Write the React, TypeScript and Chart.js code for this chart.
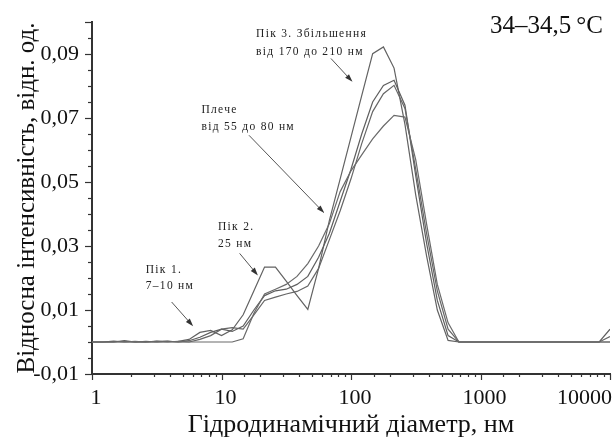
import React, { useEffect, useRef } from 'react';
import { Chart, registerables } from 'chart.js';

Chart.register(...registerables);

const FONT = '"Liberation Serif", "Times New Roman", serif';

// Hydrodynamic diameter grid, nm
const diameters = [
  1, 1.21, 1.47, 1.78, 2.15, 2.61, 3.16, 3.83, 4.64, 5.62, 6.81, 8.25,
  10, 12.1, 14.7, 17.8, 21.5, 26.1, 31.6, 38.3, 46.4, 56.2, 68.1, 82.5,
  100, 121, 147, 178, 215, 261, 316, 383, 464, 562, 681, 825,
  1000, 1210, 1470, 1780, 2150, 2610, 3160, 3830, 4640, 5620, 6810, 8250, 10000,
];

const seriesA = [
  0, 0, 0, 0.0004, 0, 0, 0.0002, 0, 0.0002, 0.0008, 0.003, 0.0036,
  0.002, 0.0038, 0.0085, 0.016, 0.0234, 0.0234, 0.019, 0.0145, 0.0102, 0.023, 0.038, 0.051,
  0.064, 0.077, 0.0901, 0.0922, 0.0856, 0.068, 0.046, 0.027, 0.01, 0.0005, 0, 0,
  0, 0, 0, 0, 0, 0, 0, 0, 0, 0, 0, 0, 0,
];
const seriesB = [
  0, 0, 0.0003, 0, 0, 0.0002, 0, 0.0003, 0, 0.0004, 0.0015, 0.003,
  0.004, 0.0033, 0.005, 0.01, 0.0145, 0.016, 0.0165, 0.018, 0.0205, 0.0265, 0.034, 0.044,
  0.054, 0.065, 0.075, 0.0802, 0.0818, 0.074, 0.052, 0.031, 0.013, 0.002, 0, 0,
  0, 0, 0, 0, 0, 0, 0, 0, 0, 0, 0, 0, 0.004,
];
const seriesC = [
  0, 0, 0, 0.0002, 0, 0, 0.0003, 0.0002, 0, 0, 0.0008, 0.002,
  0.004, 0.0045, 0.004, 0.0085, 0.013, 0.014, 0.015, 0.0158, 0.0175, 0.023, 0.032, 0.041,
  0.051, 0.062, 0.072, 0.0776, 0.0802, 0.073, 0.054, 0.034, 0.016, 0.004, 0, 0,
  0, 0, 0, 0, 0, 0, 0, 0, 0, 0, 0, 0, 0.0017,
];
const seriesD = [
  0, 0, 0, 0, 0.0002, 0, 0, 0, 0.0002, 0, 0, 0,
  0, 0, 0.001, 0.009, 0.015, 0.0165, 0.018, 0.0205, 0.0245, 0.03, 0.037, 0.047,
  0.0535, 0.0585, 0.0635, 0.0675, 0.0708, 0.0703, 0.057, 0.037, 0.018, 0.006, 0, 0,
  0, 0, 0, 0, 0, 0, 0, 0, 0, 0, 0, 0, 0,
];

const xTickLabels = ['1', '10', '100', '1000', '10000'];
const yLabelValues = [-0.01, 0.01, 0.03, 0.05, 0.07, 0.09];
const chartTitle = '34–34,5\u2009°C';
const xTitle = 'Гідродинамічний діаметр, нм';
const yTitle = 'Відносна інтенсивність, відн. од.';

// Annotations: text lines anchored at (x, y) in data units, arrows from -> to in data units
const annotations = [
  { lines: ['Пік 1.', '7–10 нм'], x: 2.6, y: [0.0224, 0.0174], from: [4.12, 0.0125], to: [6.04, 0.0049] },
  { lines: ['Пік 2.', '25 нм'], x: 9.4, y: [0.0358, 0.0305], from: [13.8, 0.0277], to: [19.1, 0.0208] },
  { lines: ['Плече', 'від 55 до 80 нм'], x: 7.0, y: [0.0724, 0.0671], from: [16.3, 0.0646], to: [62.2, 0.0403] },
  { lines: ['Пік 3. Збільшення', 'від 170 до 210 нм'], x: 18.5, y: [0.0962, 0.0905], from: [70, 0.0886], to: [102.7, 0.0813] },
];

const isPow10 = (v: number) => {
  const l = Math.log10(v);
  return Math.abs(l - Math.round(l)) < 1e-6;
};
const isYMajor = (v: number) => yLabelValues.some((m) => Math.abs(m - v) < 1e-6) || Math.abs(v - 0.1) < 1e-6;

const X_TICK_LEN = 6;
const X_TICK_PAD = 5;
const TICK_FONT = 22;

const decorPlugin = {
  id: 'decor',
  afterDraw(chart: any) {
    const { ctx, chartArea } = chart;
    const xs = chart.scales.x;
    const ys = chart.scales.y;
    ctx.save();
    ctx.strokeStyle = '#333';
    ctx.lineWidth = 1.2;
    // x tick marks
    xs.ticks.forEach((t: any) => {
      if (t.value < 1 || t.value > 10000) return;
      const px = Math.round(xs.getPixelForValue(t.value)) + 0.5;
      const len = isPow10(t.value) ? X_TICK_LEN : 3;
      ctx.beginPath();
      ctx.moveTo(px, chartArea.bottom);
      ctx.lineTo(px, chartArea.bottom + len);
      ctx.stroke();
    });
    // y tick marks
    ys.ticks.forEach((t: any) => {
      const py = Math.round(ys.getPixelForValue(t.value)) + 0.5;
      const len = isYMajor(t.value) ? 7 : 4;
      ctx.beginPath();
      ctx.moveTo(chartArea.left, py);
      ctx.lineTo(chartArea.left - len, py);
      ctx.stroke();
    });
    // last x label, right aligned at the end of the axis
    ctx.fillStyle = '#111';
    ctx.font = `${TICK_FONT}px ${FONT}`;
    ctx.textAlign = 'right';
    ctx.textBaseline = 'middle';
    ctx.fillText(
      xTickLabels[xTickLabels.length - 1],
      xs.getPixelForValue(10000) + 2,
      chartArea.bottom + X_TICK_LEN + X_TICK_PAD + (TICK_FONT * 1.2) / 2
    );
    // title
    ctx.font = `25px ${FONT}`;
    ctx.textBaseline = 'alphabetic';
    ctx.fillText(chartTitle, chartArea.right - 7, chartArea.top + 11);
    // annotations
    ctx.font = `11.5px ${FONT}`;
    (ctx as any).letterSpacing = '1.3px';
    ctx.textAlign = 'left';
    ctx.textBaseline = 'middle';
    ctx.fillStyle = '#222';
    annotations.forEach((a) => {
      const tx = xs.getPixelForValue(a.x);
      a.lines.forEach((s, i) => ctx.fillText(s, tx, ys.getPixelForValue(a.y[i])));
      const x1 = xs.getPixelForValue(a.from[0]);
      const y1 = ys.getPixelForValue(a.from[1]);
      const x2 = xs.getPixelForValue(a.to[0]);
      const y2 = ys.getPixelForValue(a.to[1]);
      const ang = Math.atan2(y2 - y1, x2 - x1);
      const hl = 8;
      const hw = 2.6;
      ctx.strokeStyle = '#555';
      ctx.lineWidth = 1;
      ctx.beginPath();
      ctx.moveTo(x1, y1);
      ctx.lineTo(x2 - Math.cos(ang) * hl * 0.8, y2 - Math.sin(ang) * hl * 0.8);
      ctx.stroke();
      ctx.fillStyle = '#333';
      ctx.beginPath();
      ctx.moveTo(x2, y2);
      ctx.lineTo(x2 - Math.cos(ang) * hl - Math.sin(ang) * hw, y2 - Math.sin(ang) * hl + Math.cos(ang) * hw);
      ctx.lineTo(x2 - Math.cos(ang) * hl + Math.sin(ang) * hw, y2 - Math.sin(ang) * hl - Math.cos(ang) * hw);
      ctx.closePath();
      ctx.fill();
      ctx.fillStyle = '#222';
    });
    ctx.restore();
  },
};

export default function App() {
  const ref = useRef<HTMLCanvasElement | null>(null);
  useEffect(() => {
    document.body.style.margin = '0';
    if (!ref.current) return;
    const mk = (vals: number[], color: string) => ({
      data: diameters.map((d, i) => ({ x: d, y: vals[i] })),
      borderColor: color,
      borderWidth: 1.2,
      pointRadius: 0,
      tension: 0,
      fill: false,
    });
    const chart = new Chart(ref.current, {
      type: 'line',
      data: {
        datasets: [
          mk(seriesD, '#6a6a6a'),
          mk(seriesC, '#666'),
          mk(seriesB, '#5e5e5e'),
          mk(seriesA, '#626262'),
        ],
      },
      options: {
        animation: false,
        responsive: false,
        devicePixelRatio: 1,
        parsing: false as any,
        layout: { padding: { top: 22, right: 3, left: 0, bottom: 0 } },
        plugins: { legend: { display: false }, tooltip: { enabled: false } },
        scales: {
          x: {
            type: 'logarithmic',
            min: 1,
            max: 10000,
            border: { display: true, color: '#333', width: 2 },
            grid: { display: false, drawTicks: true, tickLength: X_TICK_LEN },
            ticks: {
              autoSkip: false,
              maxRotation: 0,
              padding: X_TICK_PAD,
              labelOffset: 4,
              color: '#111',
              font: { family: FONT, size: TICK_FONT },
              callback: (v: any) => {
                const n = Number(v);
                if (!isPow10(n) || n >= 10000) return '';
                return xTickLabels[Math.round(Math.log10(n))];
              },
            },
            title: {
              display: true,
              text: xTitle,
              color: '#111',
              font: { family: FONT, size: 26 },
              padding: { top: 0, bottom: 2 },
            },
            afterFit: (s: any) => {
              s.height = 69;
            },
          },
          y: {
            min: -0.01,
            max: 0.1,
            border: { display: true, color: '#333', width: 2 },
            grid: { display: false, drawTicks: true, tickLength: 7 },
            ticks: {
              stepSize: 0.005,
              autoSkip: false,
              padding: 6,
              color: '#111',
              font: { family: FONT, size: TICK_FONT },
              callback: (v: any) => {
                const n = Number(v);
                const m = yLabelValues.find((q) => Math.abs(q - n) < 1e-6);
                return m === undefined ? '' : m.toFixed(2).replace('.', ',');
              },
            },
            title: {
              display: true,
              text: yTitle,
              color: '#111',
              font: { family: FONT, size: 25 },
              padding: { top: 12, bottom: 0 },
            },
            afterFit: (s: any) => {
              s.width = 92;
            },
          },
        },
      },
      plugins: [decorPlugin],
    });
    return () => chart.destroy();
  }, []);
  return (
    <div style={{ width: 615, height: 443 }}>
      <canvas ref={ref} width={615} height={443} style={{ display: 'block' }} />
    </div>
  );
}
